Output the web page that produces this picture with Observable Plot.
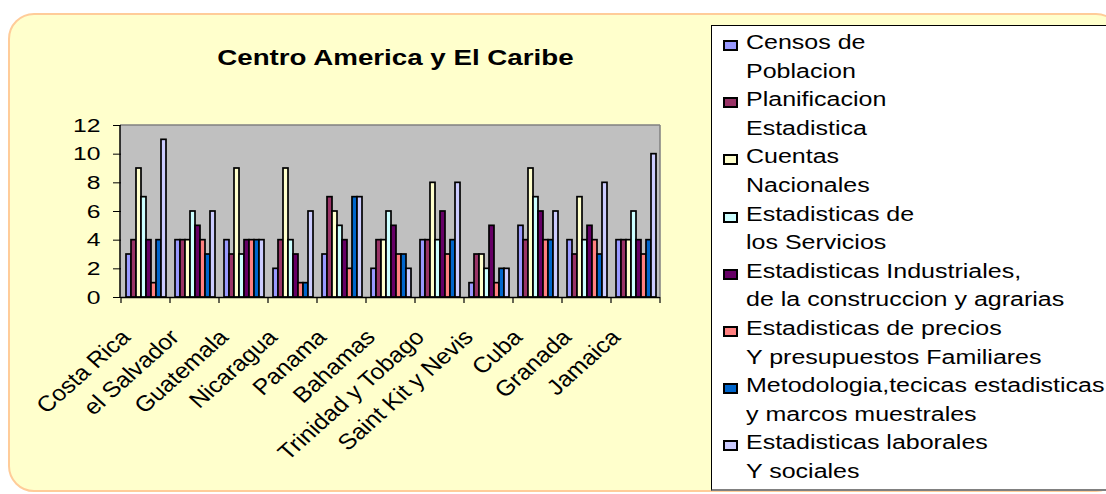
<!DOCTYPE html>
<html><head><meta charset="utf-8">
<script src="https://cdn.jsdelivr.net/npm/d3@7"></script>
<script src="https://cdn.jsdelivr.net/npm/@observablehq/plot@0.6"></script>
<style>
body{margin:0;background:#fff;font-family:"Liberation Sans",Arial,sans-serif;}
#wrap{position:relative;width:1106px;height:494px;overflow:hidden;background:#fff;}
#bg{position:absolute;left:8px;top:13px;width:1110px;height:475px;background:#FFFFCC;border:2px solid #FFCC99;border-radius:26px;}
#chart{position:absolute;left:0;top:0;}
#title{position:absolute;left:0;top:45px;width:790px;text-align:center;line-height:26px;}
#title span{display:inline-block;font-weight:bold;font-size:22px;transform:scaleX(1.26);transform-origin:center;}
#legend{position:absolute;left:711px;top:25px;width:420px;height:463px;background:#fff;border:1px solid #000;border-bottom:2px solid #808080;}
#legend .lines{position:absolute;left:34px;top:2px;}
#legend .ln{position:relative;height:28.6px;line-height:28.6px;font-size:20px;white-space:nowrap;}
#legend .ln span.t{display:inline-block;transform:scaleX(1.25);transform-origin:left center;}
#legend .mk{position:absolute;left:-23px;top:12px;width:11px;height:7px;border:2px solid #000;}
</style></head>
<body>
<div id="wrap">
  <div id="bg"></div>
  <div id="chart"></div>
  <div id="title"><span>Centro America y El Caribe</span></div>
  <div id="legend"><div class="lines" id="lines"></div></div>
</div>
<script>
const countries = ["Costa Rica","el Salvador","Guatemala","Nicaragua","Panama","Bahamas","Trinidad y Tobago","Saint Kit y Nevis","Cuba","Granada","Jamaica"];
const seriesKeys = ["censos","planificacion","cuentas","servicios","industriales","precios","metodologia","laborales"];
const seriesLabels = [
  ["Censos de","Poblacion"],
  ["Planificacion","Estadistica"],
  ["Cuentas","Nacionales"],
  ["Estadisticas de","los Servicios"],
  ["Estadisticas Industriales,","de la construccion y agrarias"],
  ["Estadisticas de precios","Y presupuestos Familiares"],
  ["Metodologia,tecicas estadisticas","y marcos muestrales"],
  ["Estadisticas laborales","Y sociales"]
];
const seriesColors = ["#9999FF","#993366","#FFFFCC","#CCFFFF","#660066","#FF8080","#0066CC","#CCCCFF"];
const censos        = [3,4,4,2,3,2,4,1,5,4,4];
const planificacion = [4,4,3,4,7,4,4,3,4,3,4];
const cuentas       = [9,4,9,9,6,4,8,3,9,7,4];
const servicios     = [7,6,3,4,5,6,4,2,7,4,6];
const industriales  = [4,5,4,3,4,5,6,5,6,5,4];
const precios       = [1,4,4,1,2,3,3,1,4,4,3];
const metodologia   = [4,3,4,1,7,3,4,2,4,3,4];
const laborales     = [11,6,4,6,7,2,8,2,6,8,10];
const yTicks = [0,2,4,6,8,10,12];

const seriesValues = [censos,planificacion,cuentas,servicios,industriales,precios,metodologia,laborales];
const rows = [];
countries.forEach((c, i) => seriesKeys.forEach((s, j) => rows.push({country: c, series: s, value: seriesValues[j][i]})));

const plot = Plot.plot({
  width: 700, height: 494,
  marginLeft: 120, marginRight: 40, marginTop: 125, marginBottom: 197,
  style: {background: "transparent", fontFamily: "Liberation Sans, Arial, sans-serif", color: "#000"},
  fx: {domain: countries, padding: 0, label: null},
  x: {domain: seriesKeys, paddingInner: 0, paddingOuter: 0.64, axis: null},
  y: {domain: [0, 12], label: null},
  color: {domain: seriesKeys, range: seriesColors},
  marks: [
    Plot.axisY({ticks: yTicks, tickSize: 8, tickPadding: 13, fontSize: 19, label: null, tickFormat: d => String(d)}),
    Plot.axisFx({anchor: "bottom", tickRotate: -45, fontSize: 22, tickSize: 0, tickPadding: 36, dx: -20, label: null}),
    Plot.barY(rows, {fx: "country", x: "series", y: "value", fill: "series", stroke: "#000", strokeWidth: 1.7}),
    Plot.ruleY([0], {stroke: "#000", strokeWidth: 1.5})
  ]
});
document.getElementById("chart").appendChild(plot);

const svg = d3.select(plot);
const fx = plot.scale("fx"), y = plot.scale("y");
const [x0, x1] = fx.range;
const y0 = y.apply(0), yTop = y.apply(12);
svg.insert("rect", ":first-child")
  .attr("x", x0).attr("y", yTop).attr("width", x1 - x0).attr("height", y0 - yTop)
  .attr("fill", "#C0C0C0");
const over = svg.append("g");
over.append("line").attr("x1", x0).attr("x2", x1).attr("y1", yTop).attr("y2", yTop).attr("stroke", "#808080").attr("stroke-width", 1.5);
over.append("line").attr("x1", x1).attr("x2", x1).attr("y1", yTop).attr("y2", y0).attr("stroke", "#808080").attr("stroke-width", 1.5);
over.append("line").attr("x1", x0).attr("x2", x0).attr("y1", yTop).attr("y2", y0).attr("stroke", "#000").attr("stroke-width", 1.5);
const edges = countries.map(c => fx.apply(c)).concat([x1]);
over.selectAll("line.tk").data(edges).join("line").attr("class", "tk")
  .attr("x1", d => d).attr("x2", d => d).attr("y1", y0).attr("y2", y0 + 6)
  .attr("stroke", "#000").attr("stroke-width", 1.2);

function stretch(sel, s) {
  sel.each(function() {
    const t = d3.select(this);
    let tr = t.attr("transform");
    if (tr && /^translate\(/.test(tr)) {
      const m = tr.match(/^(translate\([^)]*\))(.*)$/);
      t.attr("transform", `${m[1]} scale(${s},1)${m[2]}`);
    } else {
      const x = +t.attr("x") || 0, yy = +t.attr("y") || 0;
      t.attr("x", null).attr("y", null).attr("transform", `translate(${x},${yy}) scale(${s},1) ${tr || ""}`);
    }
  });
}
stretch(svg.selectAll('[aria-label="y-axis tick label"] text'), 1.3);
stretch(svg.selectAll('[aria-label="fx-axis tick label"] text'), 1.12);

const lines = d3.select("#lines");
seriesLabels.forEach((lab, j) => {
  lab.forEach((txt, k) => {
    const ln = lines.append("div").attr("class", "ln");
    if (k === 0) ln.append("span").attr("class", "mk").style("background", seriesColors[j]);
    ln.append("span").attr("class", "t").text(txt);
  });
});
</script>
</body></html>
